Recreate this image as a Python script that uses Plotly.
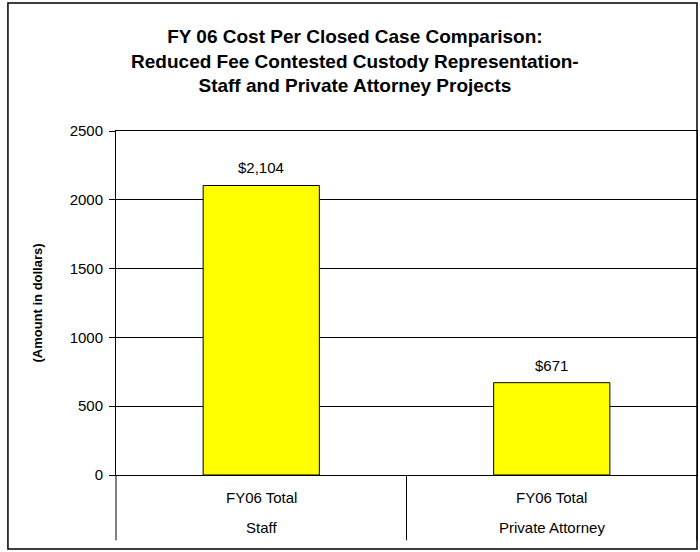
import plotly.graph_objects as go

groups = ["Staff", "Private Attorney"]
periods = ["FY06 Total", "FY06 Total"]
values = [2104, 671]
labels = ["$2,104", "$671"]
y_ticks = [0, 500, 1000, 1500, 2000, 2500]

FONT = "Liberation Sans, Arial, sans-serif"

fig = go.Figure()
fig.add_trace(go.Bar(
    x=groups,
    y=values,
    marker=dict(color="#FFFF00", line=dict(color="black", width=1)),
    width=0.4,
))

# value labels above bars
for g, v, t in zip(groups, values, labels):
    fig.add_annotation(x=g, y=v, xref="x", yref="y", text=t, showarrow=False,
                       yanchor="bottom", yshift=7,
                       font=dict(family=FONT, size=15, color="black"))

# two-level category labels
for g, p in zip(groups, periods):
    fig.add_annotation(x=g, xref="x", y=-0.064, yref="paper", text=p, showarrow=False,
                       yanchor="middle", font=dict(family=FONT, size=15, color="black"))
    fig.add_annotation(x=g, xref="x", y=-0.154, yref="paper", text=g, showarrow=False,
                       yanchor="middle", font=dict(family=FONT, size=15, color="black"))

# category dividers
for xp in [0, 0.5, 1.0]:
    fig.add_shape(type="line", xref="paper", yref="paper", x0=xp, x1=xp, y0=0, y1=-0.19,
                  line=dict(color="black", width=1))

fig.update_layout(
    width=700, height=552,
    margin=dict(l=116, r=3, t=131, b=77),
    paper_bgcolor="white", plot_bgcolor="white",
    showlegend=False,
    font=dict(family=FONT, size=15, color="black"),
    title=dict(
        text="FY 06 Cost Per Closed Case Comparison:<br>Reduced Fee Contested Custody Representation-<br>Staff and Private Attorney Projects",
        x=0.507, xanchor="center", y=0.922, yanchor="top",
        font=dict(family=FONT, size=19, color="black", weight="bold"),
    ),
)

fig.update_yaxes(
    range=[0, 2500], tickvals=y_ticks, ticks="outside", ticklen=6, tickcolor="black",
    ticklabelstandoff=3,
    showgrid=True, gridcolor="black", gridwidth=1,
    showline=True, linecolor="black", linewidth=1, mirror=True,
    tickfont=dict(family=FONT, size=15, color="black"),
    title=dict(text="<b>(Amount in dollars)</b>", font=dict(family=FONT, size=13, color="black"), standoff=24),
    zeroline=False,
)
fig.update_xaxes(
    type="category",
    showline=True, linecolor="black", linewidth=1, mirror=True,
    showticklabels=False, ticks="",
)

# outer chart frame
fig.add_shape(type="rect", xref="paper", yref="paper",
              x0=-0.186, x1=1.0, y0=-0.215, y1=1.372,
              line=dict(color="black", width=1.5), fillcolor="rgba(0,0,0,0)", layer="below")

fig.write_html("out.html")
